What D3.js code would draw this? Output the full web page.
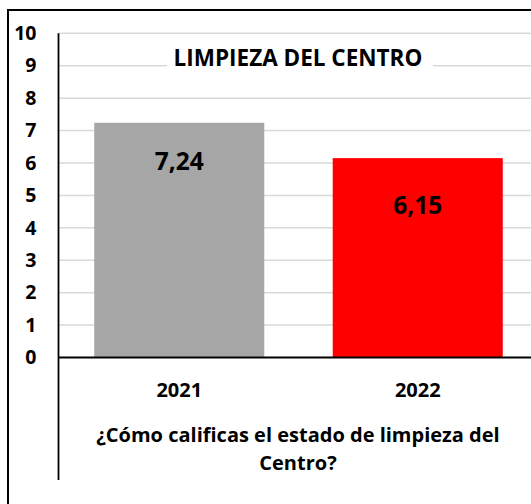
<!DOCTYPE html>
<html>
<head>
<meta charset="utf-8">
<script src="https://cdn.jsdelivr.net/npm/d3@7"></script>
<style>
  body { margin: 0; background: #fff; }
  text { font-family: "Open Sans", Lato, sans-serif; font-weight: bold; fill: #000; }
</style>
</head>
<body>
<div id="graph"></div>
<script>
var years = ['2021', '2022'];
var scores = [7.24, 6.15];
var labels = ['7,24', '6,15'];
var barColors = ['#a6a6a6', '#ff0000'];
var yTicks = [0, 1, 2, 3, 4, 5, 6, 7, 8, 9, 10];
var chartTitle = 'LIMPIEZA DEL CENTRO';
var axisTitle = ['¿Cómo calificas el estado de limpieza del', 'Centro?'];

function draw() {
    var width = 531,
        height = 504;

    var svg = d3.select('#graph')
        .append('svg')
            .attr('width', width)
            .attr('height', height);

    var x = d3.scaleBand()
        .domain(years)
        .range([60, 537])
        .paddingInner(0.287)
        .paddingOuter(0.1435);

    var y = d3.scaleLinear()
        .domain([0, 10])
        .range([357.5, 33.3]);

    // gridlines
    svg.append('g')
        .selectAll('line')
        .data(yTicks.filter(function(d) { return d > 0; }))
        .enter()
        .append('line')
            .attr('x1', 59)
            .attr('x2', width)
            .attr('y1', function(d) { return y(d); })
            .attr('y2', function(d) { return y(d); })
            .attr('stroke', '#d9d9d9')
            .attr('stroke-width', 1.5);

    // title with white box behind it
    svg.append('rect')
        .attr('x', 167)
        .attr('y', 42)
        .attr('width', 266)
        .attr('height', 32)
        .attr('fill', '#fff');
    svg.append('text')
        .attr('x', 298)
        .attr('y', 66)
        .attr('text-anchor', 'middle')
        .style('font-size', '22.5px')
        .text(chartTitle);

    // bars
    svg.append('g')
        .selectAll('rect')
        .data(scores)
        .enter()
        .append('rect')
            .attr('x', function(d, i) { return x(years[i]); })
            .attr('y', function(d) { return y(d); })
            .attr('width', x.bandwidth())
            .attr('height', function(d) { return y(0) - y(d); })
            .attr('fill', function(d, i) { return barColors[i]; });

    // value labels (manually placed inside the bars in the original)
    var labelDy = [38, 47.5];
    svg.append('g')
        .selectAll('text')
        .data(scores)
        .enter()
        .append('text')
            .attr('x', function(d, i) { return x(years[i]) + x.bandwidth() / 2; })
            .attr('y', function(d, i) { return y(d) + labelDy[i]; })
            .attr('dy', '0.36em')
            .attr('text-anchor', 'middle')
            .style('font-size', '24.5px')
            .text(function(d, i) { return labels[i]; });

    // y axis
    var yAxis = svg.append('g')
        .attr('transform', 'translate(58.5,0)')
        .call(d3.axisLeft(y).tickValues(yTicks).tickSize(0).tickPadding(22));
    yAxis.select('.domain').remove();
    yAxis.selectAll('text')
        .style('font-size', '19.5px')
        .style('font-family', null);

    svg.append('line')
        .attr('x1', 58.5).attr('x2', 58.5)
        .attr('y1', 33.3).attr('y2', 480)
        .attr('stroke', '#000')
        .attr('stroke-width', 1.8);

    // x axis
    var xAxis = svg.append('g')
        .attr('transform', 'translate(0,' + y(0) + ')')
        .call(d3.axisBottom(x).tickSize(0).tickPadding(25.5));
    xAxis.select('.domain').remove();
    xAxis.selectAll('text')
        .style('font-size', '20px')
        .style('font-family', null);

    svg.append('line')
        .attr('x1', 58.5).attr('x2', width)
        .attr('y1', y(0)).attr('y2', y(0))
        .attr('stroke', '#000')
        .attr('stroke-width', 1.8);

    // axis title
    svg.append('text')
        .attr('text-anchor', 'middle')
        .style('font-size', '20px')
        .selectAll('tspan')
        .data(axisTitle)
        .enter()
        .append('tspan')
            .attr('x', 298)
            .attr('y', function(d, i) { return 441.5 + i * 28.5; })
            .text(function(d) { return d; });

    // outer frame
    svg.append('path')
        .attr('d', 'M8,' + height + 'V10H' + width)
        .attr('fill', 'none')
        .attr('stroke', '#000')
        .attr('stroke-width', 2);
}

draw();
</script>
</body>
</html>
